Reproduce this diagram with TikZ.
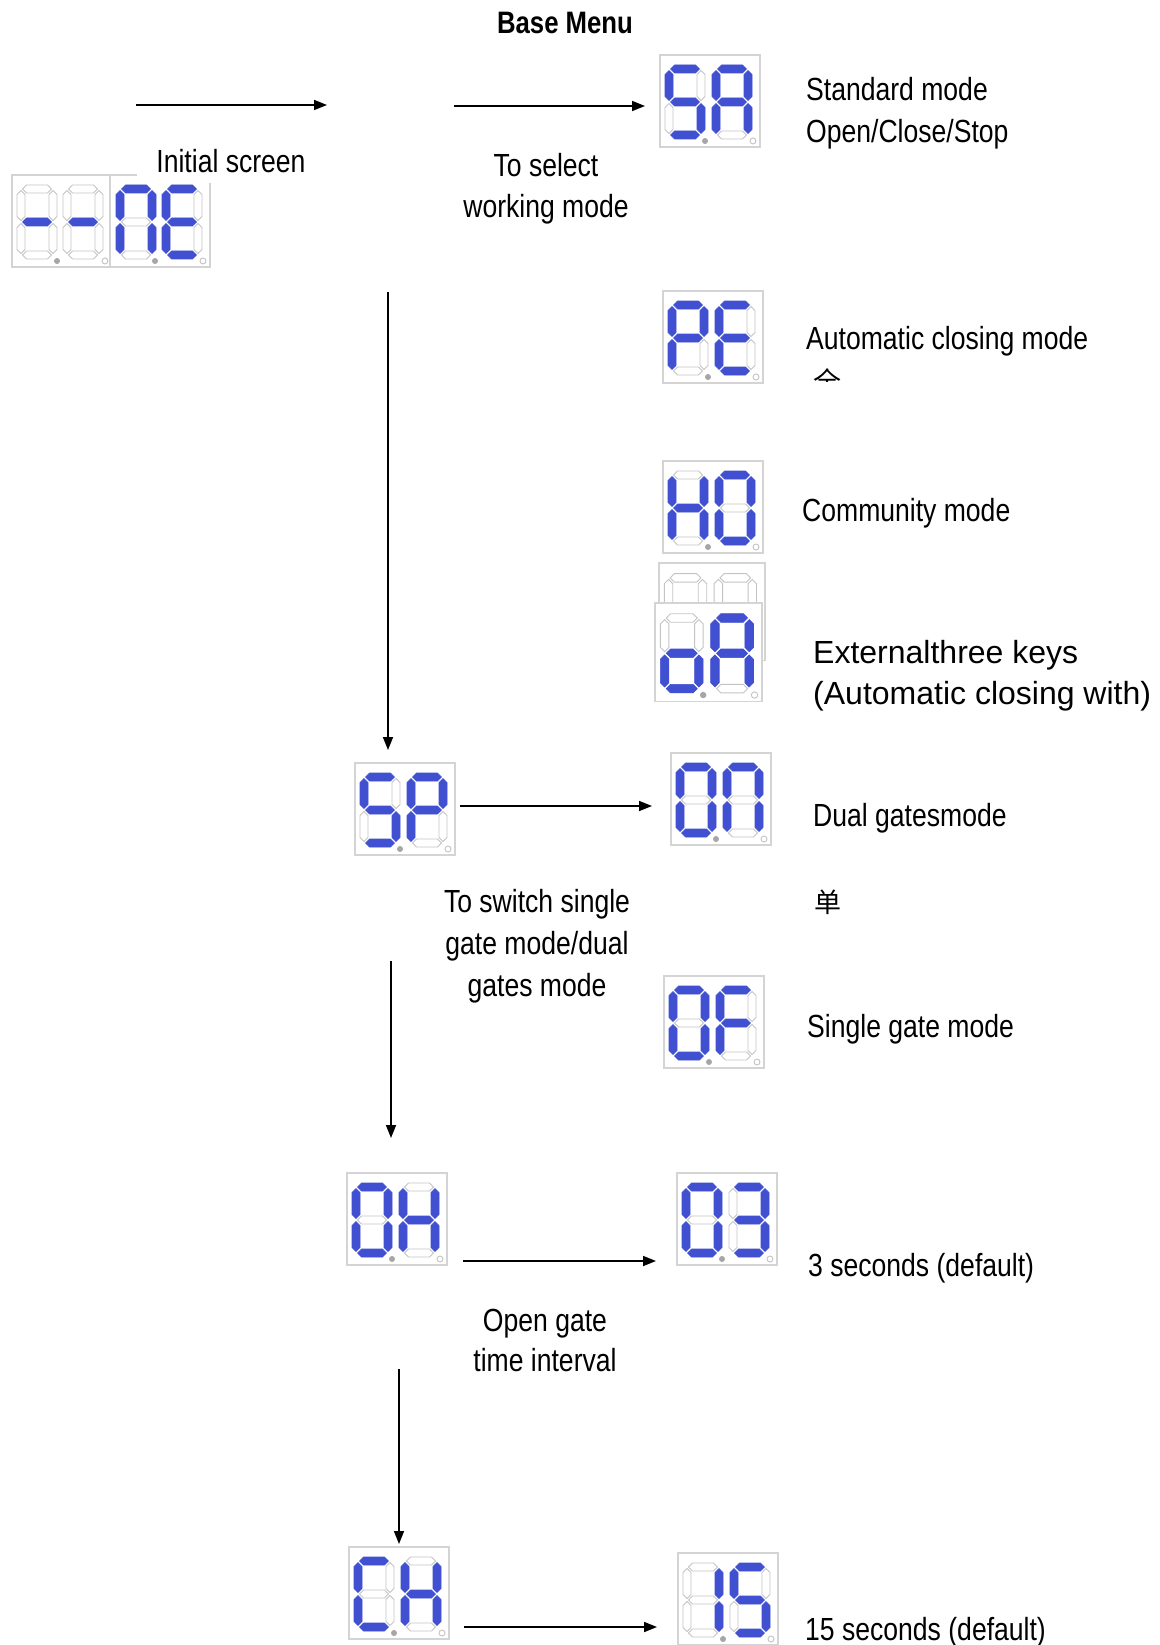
\documentclass[tikz,border=0pt]{standalone}
\usepackage{fontspec}
\usetikzlibrary{arrows.meta}
\newfontfamily\narrowf[FakeStretch=0.83]{Liberation Sans}
\newfontfamily\widef{Liberation Sans}
\newfontfamily\cjk{Noto Sans CJK SC}
\definecolor{segblue}{HTML}{4050D0}
\definecolor{seggray}{HTML}{C4C4C4}
\definecolor{boxgray}{HTML}{D4D4D4}
\tikzset{
  seg1/.style={fill=segblue,draw=segblue,line width=0.6pt},
  seg0/.style={fill=white,draw=seggray,line width=0.9pt},
  boxst/.style={fill=white,draw=boxgray,line width=1.2pt},
  lbl/.style={font=\narrowf\fontsize{32}{38}\selectfont,inner sep=0pt,anchor=base west},
  clbl/.style={font=\narrowf\fontsize{32}{38}\selectfont,inner sep=0pt,anchor=base},
  wlbl/.style={font=\widef\fontsize{32}{38}\selectfont,inner sep=0pt,anchor=base west},
  arr/.style={line width=1.7pt,-{Triangle[length=13pt,width=10pt]}}
}
\newcommand\dbox{%
  \draw[boxst] (0,0) rectangle (100,92);
  \fill[black!35] (45,86) circle (3);
  \draw[seggray,fill=white,line width=0.9pt] (93,86) circle (3);}
\newcommand\sd[9]{%
\begin{scope}[shift={(#1,#2)}]
 \path[seg#3] (5.5,4)--(9.5,0)--(30.5,0)--(34.5,4)--(30.5,8)--(9.5,8)--cycle;
 \path[seg#4] (36,5.5)--(40,9.5)--(40,31.5)--(36,35.5)--(32,31.5)--(32,9.5)--cycle;
 \path[seg#5] (36,38.5)--(40,42.5)--(40,64.5)--(36,68.5)--(32,64.5)--(32,42.5)--cycle;
 \path[seg#6] (5.5,70)--(9.5,66)--(30.5,66)--(34.5,70)--(30.5,74)--(9.5,74)--cycle;
 \path[seg#7] (4,38.5)--(8,42.5)--(8,64.5)--(4,68.5)--(0,64.5)--(0,42.5)--cycle;
 \path[seg#8] (4,5.5)--(8,9.5)--(8,31.5)--(4,35.5)--(0,31.5)--(0,9.5)--cycle;
 \path[seg#9] (5.5,37)--(9.5,33)--(30.5,33)--(34.5,37)--(30.5,41)--(9.5,41)--cycle;
\end{scope}}
\begin{document}
\begin{tikzpicture}[x=1pt,y=-1pt]
\useasboundingbox (0,0) rectangle (1159,1645);
\clip (0,0) rectangle (1159,1645);
\fill[white] (0,0) rectangle (1159,1645);

% ---------- displays ----------
% initial screen
\begin{scope}[shift={(12,175)}]\dbox
 \sd{5}{10}{0}{0}{0}{0}{0}{0}{1}\sd{51}{10}{0}{0}{0}{0}{0}{0}{1}\end{scope}
\begin{scope}[shift={(110,175)}]\dbox
 \sd{6}{10}{1}{1}{1}{0}{1}{1}{0}\sd{52}{10}{1}{0}{0}{1}{1}{1}{1}\end{scope}
\fill[white] (137,130) rectangle (305,183);
% SA
\begin{scope}[shift={(660,55)}]\dbox
 \sd{5}{10}{1}{0}{1}{1}{0}{1}{1}\sd{52}{10}{1}{1}{1}{0}{1}{1}{1}\end{scope}
% PE
\begin{scope}[shift={(663,291)}]\dbox
 \sd{5}{10}{1}{1}{0}{0}{1}{1}{1}\sd{52}{10}{1}{0}{0}{1}{1}{1}{1}\end{scope}
% HO
\begin{scope}[shift={(663,461)}]\dbox
 \sd{5}{10}{0}{1}{1}{0}{1}{1}{1}\sd{52}{10}{1}{1}{1}{1}{1}{1}{0}\end{scope}
% back empty box
\begin{scope}[shift={(659,563)},scale=1.06]\dbox
 \sd{5}{10}{0}{0}{0}{0}{0}{0}{0}\sd{52}{10}{0}{0}{0}{0}{0}{0}{0}\end{scope}
% oA
\begin{scope}[shift={(655,603)},scale=1.07]\dbox
 \sd{5}{10}{0}{0}{1}{1}{1}{0}{1}\sd{52}{10}{1}{1}{1}{0}{1}{1}{1}\end{scope}
% SP
\begin{scope}[shift={(355,763)}]\dbox
 \sd{5}{10}{1}{0}{1}{1}{0}{1}{1}\sd{52}{10}{1}{1}{0}{0}{1}{1}{1}\end{scope}
% 00
\begin{scope}[shift={(671,753)}]\dbox
 \sd{5}{10}{1}{1}{1}{1}{1}{1}{0}\sd{52}{10}{1}{1}{1}{0}{1}{1}{0}\end{scope}
% 0F
\begin{scope}[shift={(664,976)}]\dbox
 \sd{5}{10}{1}{1}{1}{1}{1}{1}{0}\sd{52}{10}{1}{0}{0}{0}{1}{1}{1}\end{scope}
% 0H
\begin{scope}[shift={(347,1173)}]\dbox
 \sd{5}{10}{1}{1}{1}{1}{1}{1}{0}\sd{52}{10}{0}{1}{1}{0}{1}{1}{1}\end{scope}
% 03
\begin{scope}[shift={(677,1173)}]\dbox
 \sd{5}{10}{1}{1}{1}{1}{1}{1}{0}\sd{52}{10}{1}{1}{1}{1}{0}{0}{1}\end{scope}
% CH
\begin{scope}[shift={(349,1547)}]\dbox
 \sd{5}{10}{1}{0}{0}{1}{1}{1}{0}\sd{52}{10}{0}{1}{1}{0}{1}{1}{1}\end{scope}
% 15
\begin{scope}[shift={(678,1553)}]\dbox
 \sd{5}{10}{0}{1}{1}{0}{0}{0}{0}\sd{52}{10}{1}{0}{1}{1}{0}{1}{1}\end{scope}

% ---------- texts ----------
\node[clbl,font=\narrowf\bfseries\fontsize{31}{37}\selectfont] (title) at (565,34) {Base Menu};
\node[clbl] (init) at (231,173) {Initial screen};
\node[clbl] (sel1) at (546,177) {To select};
\node[clbl] (sel2) at (546,218) {working mode};
\node[lbl] (std1) at (806,101) {Standard mode};
\node[lbl] (std2) at (806,143) {Open/Close/Stop};
\node[lbl] (auto) at (806,349) {Automatic closing mode};
\begin{scope}
 \clip (800,355) rectangle (860,381);
 \node[inner sep=0pt,anchor=base,font=\cjk\fontsize{28}{30}\selectfont] (quan) at (827,392) {全};
\end{scope}
\node[lbl] (comm) at (802,521) {Community mode};
\node[wlbl] (ext1) at (813,663) {Externalthree keys};
\node[wlbl] (ext2) at (813,704) {(Automatic closing with)};
\node[lbl] (dual) at (813,826) {Dual gatesmode};
\node[inner sep=0pt,anchor=base west,font=\cjk\fontsize{27}{30}\selectfont] (dan) at (814,912) {单};
\node[clbl] (sw1) at (537,912) {To switch single};
\node[clbl] (sw2) at (537,954) {gate mode/dual};
\node[clbl] (sw3) at (537,996) {gates mode};
\node[lbl] (single) at (807,1037) {Single gate mode};
\node[clbl] (og1) at (545,1331) {Open gate};
\node[clbl] (og2) at (545,1371) {time interval};
\node[lbl] (three) at (808,1276) {3 seconds (default)};
\node[lbl] (fifteen) at (805,1640) {15 seconds (default)};

% ---------- connectors ----------
\coordinate (a1s) at (136,105);  \coordinate (a1e) at (327,105);
\coordinate (a2s) at (454,106);  \coordinate (a2e) at (645,106);
\coordinate (v1s) at (388,292);  \coordinate (v1e) at (388,750);
\coordinate (a3s) at (460,806);  \coordinate (a3e) at (652,806);
\coordinate (v2s) at (391,961);  \coordinate (v2e) at (391,1138);
\coordinate (a4s) at (463,1261); \coordinate (a4e) at (656,1261);
\coordinate (v3s) at (399,1369); \coordinate (v3e) at (399,1544);
\coordinate (a5s) at (464,1627); \coordinate (a5e) at (657,1627);
\draw[arr] (a1s) -- (a1e);
\draw[arr] (a2s) -- (a2e);
\draw[arr] (v1s) -- (v1e);
\draw[arr] (a3s) -- (a3e);
\draw[arr] (v2s) -- (v2e);
\draw[arr] (a4s) -- (a4e);
\draw[arr] (v3s) -- (v3e);
\draw[arr] (a5s) -- (a5e);
\end{tikzpicture}
\end{document}
